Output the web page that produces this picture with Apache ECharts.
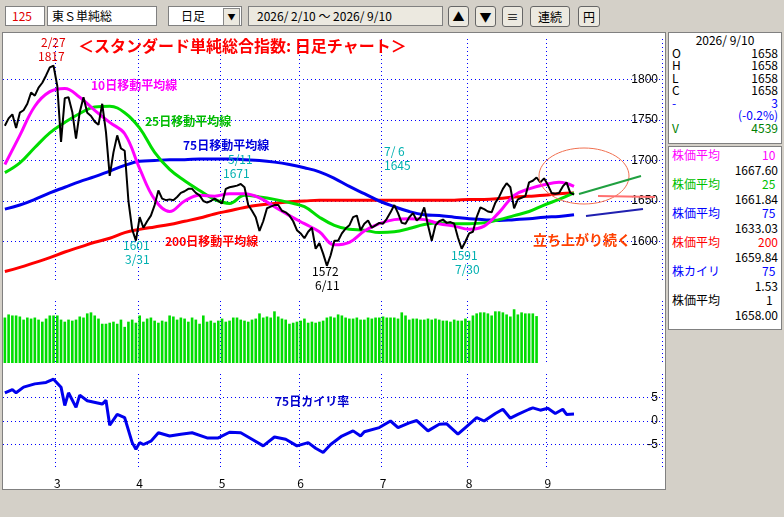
<!DOCTYPE html>
<html><head><meta charset="utf-8">
<script src="https://cdn.jsdelivr.net/npm/echarts@6/dist/echarts.min.js"></script>
<style>
body{margin:0;width:784px;height:517px;background:#d4d0c8;position:relative;overflow:hidden;font-family:"Noto Sans CJK JP",sans-serif;font-size:12px}
.b{position:absolute;background:#fff;border:1px solid #808080;box-sizing:border-box;height:20px;top:6px;line-height:18px}
.btn{position:absolute;top:6px;height:21px;border:1px solid #666;border-radius:3px;background:#ece9e0;box-sizing:border-box;text-align:center;line-height:19px}
#chart{position:absolute;left:2px;top:32px;width:664px;height:458px;background:#fff;border:1px solid #808080;box-sizing:border-box}
.rp{position:absolute;left:668px;width:114px;background:#fff;border:1px solid #808080;box-sizing:border-box;font-size:12px;line-height:12.5px;padding:1px 3px}
.r{display:flex;justify-content:space-between}
</style></head><body>
<div class="b" style="left:5px;width:40px;color:#e00000;padding-left:6px">125</div>
<div class="b" style="left:47px;width:110px;padding-left:4px">東Ｓ単純総</div>
<div class="b" style="left:168px;width:74px;padding-left:12px">日足<span style="position:absolute;right:1px;top:1px;width:15px;height:16px;background:#ece9e0;border:1px solid #888;font-size:8px;line-height:16px;text-align:center">▼</span></div>
<div class="b" style="left:248px;width:195px;background:#ece9e0;padding-left:8px">2026/ 2/10 ～ 2026/ 9/10</div>
<div class="btn" style="left:448px;width:21px">▲</div>
<div class="btn" style="left:475px;width:21px">▼</div>
<div class="btn" style="left:502px;width:21px">≡</div>
<div class="btn" style="left:530px;width:40px">連続</div>
<div class="btn" style="left:578px;width:22px">円</div>
<div id="chart"></div>
<div class="rp" style="top:32px;height:112px">
<div style="text-align:center">2026/ 9/10</div>
<div class="r"><span>O</span><span>1658</span></div>
<div class="r"><span>H</span><span>1658</span></div>
<div class="r"><span>L</span><span>1658</span></div>
<div class="r"><span>C</span><span>1658</span></div>
<div class="r" style="color:#0000ff"><span>-</span><span>3</span></div>
<div class="r" style="color:#0000ff"><span></span><span>(-0.2%)</span></div>
<div class="r" style="color:#008000"><span>V</span><span>4539</span></div>
</div>
<div class="rp" style="top:146px;height:184px;line-height:14.5px">
<div class="r" style="color:#ff00ff"><span>株価平均</span><span>10&nbsp;</span></div><div style="text-align:right">1667.60</div>
<div class="r" style="color:#00c000"><span>株価平均</span><span>25&nbsp;</span></div><div style="text-align:right">1661.84</div>
<div class="r" style="color:#0000ff"><span>株価平均</span><span>75&nbsp;</span></div><div style="text-align:right">1633.03</div>
<div class="r" style="color:#ff0000"><span>株価平均</span><span>200</span></div><div style="text-align:right">1659.84</div>
<div class="r" style="color:#0000ff"><span>株カイリ</span><span>75&nbsp;</span></div><div style="text-align:right">1.53</div>
<div class="r"><span>株価平均</span><span>1&nbsp;&nbsp;</span></div><div style="text-align:right">1658.00</div>
</div>
<script>
const closeVals=[1743,1752,1757,1740,1759,1762,1770,1784,1780,1790,1796,1805,1815,1817,1792,1723,1777,1778,1760,1727,
1760,1778,1759,1755,1748,1744,1770,1735,1681,1710,1731,1715,1712,1650,1615,1601,1630,1617,1625,1632,
1645,1663,1653,1651,1652,1651,1655,1660,1662,1665,1665,1660,1657,1650,1648,1650,1653,1650,1647,1665,
1667,1668,1669,1671,1667,1645,1638,1630,1613,1625,1641,1643,1645,1645,1638,1636,1632,1625,1614,1610,
1604,1612,1617,1591,1598,1585,1570,1583,1601,1601,1610,1616,1620,1630,1632,1614,1622,1626,1617,1620,
1623,1622,1628,1636,1645,1635,1623,1622,1630,1635,1626,1630,1642,1620,1601,1620,1625,1627,1623,1624,
1622,1605,1591,1600,1610,1612,1630,1642,1640,1637,1636,1648,1655,1665,1672,1667,1641,1652,1654,1656,
1673,1675,1679,1673,1678,1670,1660,1659,1660,1668,1673,1660,1658];
const volumeVals=[4400,4700,4600,4600,4500,4200,4400,4300,4400,4200,4000,4300,4600,4600,4600,4200,4000,4200,4100,4200,
4500,4400,4800,4900,4600,4300,3800,3800,3900,4000,3800,4200,3500,4000,4200,3900,4600,4000,4300,4400,
4100,3900,4100,4000,4600,4500,4200,4400,4300,4000,4400,4200,3800,4600,4000,4100,3900,4100,4300,4000,
4100,4400,4400,4200,4100,4000,4200,4300,4800,4400,4500,4400,5000,4500,4300,4200,3800,3900,4000,4100,
4300,3900,4000,3900,4000,4100,4400,4500,4400,4700,4600,4400,4300,4300,4400,4200,4200,4400,4300,4400,
4400,4500,4400,4400,4400,4300,4900,4600,4200,4300,4300,4200,4200,4300,4200,4300,4200,4100,4100,4000,
4200,4100,4100,4300,4100,4600,4800,4900,4900,4800,4600,5000,5000,4900,4700,4500,5200,4700,4900,4800,
4800,4800,4539];
const maIdx=[0,4,8,12,16,20,24,28,32,36,40,44,48,52,56,60,64,68,72,76,80,84,88,92,96,100,104,108,112,116,120,124,128,132,136,140,144,148,152];
const ma10=[1695,1731,1767,1785,1789,1778,1762,1747,1733,1690,1652,1637,1650,1657,1656,1659,1659,1654,1643,1632,1622,1612,1596,1599,1613,1622,1627,1628,1627,1622,1619,1615,1619,1636,1657,1665,1670,1673,1668];
const ma25=[1685,1697,1716,1734,1747,1758,1766,1767,1759,1740,1710,1689,1675,1663,1652,1647,1657,1655,1652,1648,1643,1630,1620,1615,1614,1611,1612,1616,1621,1623,1622,1622,1623,1627,1632,1637,1645,1652,1660];
const ma75=[1640,1645,1652,1660,1667,1674,1680,1687,1694,1699,1700,1701,1701,1702,1702,1702,1701,1700,1698,1695,1691,1686,1678,1668,1659,1650,1643,1637,1633,1632,1630,1628,1627,1626,1627,1628,1630,1631,1633];
const ma200=[1563,1568,1574,1580,1587,1593,1599,1604,1611,1615,1618,1621,1625,1629,1634,1638,1642,1645,1647,1649,1650,1651,1651,1651,1651,1651,1651,1651,1651,1651,1651,1652,1652,1653,1655,1656,1657,1659,1660];
const kairiIdx=[0,2,3,5,8,11,13,15,16,17,19,20,22,26,27,28,30,32,34,35,36,37,39,41,44,47,50,54,57,60,63,66,69,72,75,78,81,83,85,87,90,93,95,96,100,103,105,108,110,113,116,118,121,123,126,128,131,133,135,137,140,141,143,145,147,149,150,152];
const kairiVals=[6.0,6.7,6.0,7.2,7.9,8.2,8.9,7.2,3.3,6.0,2.9,5.5,4.3,3.6,4.4,-0.9,1.4,0.7,-4.6,-6.0,-4.6,-5.0,-4.3,-2.5,-3.2,-2.8,-2.5,-3.6,-3.6,-2.4,-2.5,-3.9,-5.3,-3.4,-3.9,-5.3,-4.6,-5.8,-6.7,-5.0,-3.2,-2.1,-3.2,-2.3,-1.4,0,-1.4,-0.4,0.1,-2.1,-0.7,-0.6,-2.8,-1.4,0.7,0,1.6,2.5,0.6,1.4,2.5,2.8,2.3,2.7,1.6,2.5,1.4,1.5];
const priceTicks=[1600,1650,1700,1750,1800];
const kairiTicks=[-5,0,5];

// trading-day categories (weekdays), extending past the last bar for right margin
const dates=[];const monthStart=new Set();
{let d=new Date(2026,1,10);let prevM=d.getMonth();
 while(dates.length<176){const wd=d.getDay();if(wd!==0&&wd!==6){if(d.getMonth()!==prevM){if(dates.length<closeVals.length)monthStart.add(dates.length);prevM=d.getMonth();}dates.push((d.getMonth()+1)+'/'+d.getDate());}d.setDate(d.getDate()+1);}}
const monthLabel=(v,i)=>monthStart.has(i)?String(+v.split('/')[0]):'';
const pairs=(xs,ys)=>xs.map((x,i)=>[x,ys[i]]);

const grid=[{left:0,right:3,top:6,height:243},{left:0,right:3,top:268,height:62},{left:0,right:3,top:341,height:94}];
const dotted={lineStyle:{color:'#0000ff',type:[1,3],width:1}};
const xAxes=[0,1,2].map(g=>({type:'category',gridIndex:g,data:dates,boundaryGap:true,
 axisLine:{show:false},axisTick:{show:false},
 axisLabel:{show:g===2,interval:(i)=>monthStart.has(i),formatter:monthLabel,color:'#000',fontSize:12,margin:9,fontFamily:'Noto Sans CJK JP'},
 splitLine:{show:true,interval:(i)=>monthStart.has(i),...dotted}}));
const yAxes=[
 {type:'value',gridIndex:0,min:1550,max:1850,interval:50,position:'right',axisLine:{show:false},axisTick:{show:false},
  axisLabel:{inside:true,margin:4,color:'#000',fontSize:12,formatter:v=>priceTicks.includes(v)?String(v):''},
  splitLine:{show:true,showMinLine:false,showMaxLine:false,...dotted}},
 {type:'value',gridIndex:1,min:0,max:6000,show:false,splitLine:{show:false}},
 {type:'value',gridIndex:2,min:-10,max:10,interval:5,position:'right',axisLine:{show:false},axisTick:{show:false},
  axisLabel:{inside:true,margin:4,color:'#000',fontSize:12,formatter:v=>kairiTicks.includes(v)?String(v):''},
  splitLine:{show:true,showMinLine:false,showMaxLine:false,...dotted}}
];
const maLine=(vals,color)=>({type:'line',xAxisIndex:0,yAxisIndex:0,data:pairs(maIdx,vals),smooth:0.4,showSymbol:false,lineStyle:{color,width:3},z:2});
const txt=(x,y,t,color,size,bold,align)=>({type:'text',left:x,top:y,style:{text:t,fill:color,font:(bold?'bold ':'')+(size||12)+'px "Noto Sans CJK JP"',textAlign:align||'left'},z:10});
const chart=echarts.init(document.getElementById('chart'));
chart.setOption({animation:false,grid,xAxis:xAxes,yAxis:yAxes,
 series:[
  maLine(ma200,'#ff0000'),maLine(ma75,'#0000ee'),maLine(ma25,'#00dd00'),maLine(ma10,'#ff00ff'),
  {type:'line',xAxisIndex:0,yAxisIndex:0,data:closeVals,showSymbol:false,lineStyle:{color:'#000',width:2},z:5},
  {type:'bar',xAxisIndex:1,yAxisIndex:1,data:volumeVals,barWidth:'70%',itemStyle:{color:'#00dd00'}},
  {type:'line',xAxisIndex:2,yAxisIndex:2,data:pairs(kairiIdx,kairiVals),showSymbol:false,lineStyle:{color:'#0000ee',width:3}}
 ],
 graphic:[
  txt(75,5,'＜スタンダード単純総合指数: 日足チャート＞','#ff0000',16,true),
  txt(38,3,'2/27','#e00000',12),txt(35,17,'1817','#e00000',12),
  txt(88,46,'10日移動平均線','#ff00ff',12,true),
  txt(142,82,'25日移動平均線','#00bb00',12,true),
  txt(180,106,'75日移動平均線','#0000dd',12,true),
  txt(162,202,'200日移動平均線','#ff0000',12,true),
  txt(225,120,'5/11','#00b0b0',12),txt(220,134,'1671','#00b0b0',12),
  txt(120,206,'1601','#00b0b0',12),txt(122,220,'3/31','#00b0b0',12),
  txt(309,232,'1572','#000',12),txt(312,246,'6/11','#000',12),
  txt(381,112,'7/ 6','#00b0b0',12),txt(381,126,'1645','#00b0b0',12),
  txt(448,216,'1591','#00b0b0',12),txt(452,230,'7/30','#00b0b0',12),
  txt(530,200,'立ち上がり続く','#ff4000',14,true),
  txt(272,362,'75日カイリ率','#0000cc',12,true),
  {type:'ellipse',shape:{cx:581,cy:143,rx:45,ry:28},style:{fill:'none',stroke:'#f07050',lineWidth:1},z:10},
  {type:'line',shape:{x1:576,y1:161,x2:638,y2:143},style:{stroke:'#20a040',lineWidth:2},z:10},
  {type:'line',shape:{x1:595,y1:163,x2:652,y2:164},style:{stroke:'#ff7070',lineWidth:2},z:10},
  {type:'line',shape:{x1:583,y1:183,x2:640,y2:176},style:{stroke:'#2020b0',lineWidth:2},z:10}
 ]});
</script></body></html>
